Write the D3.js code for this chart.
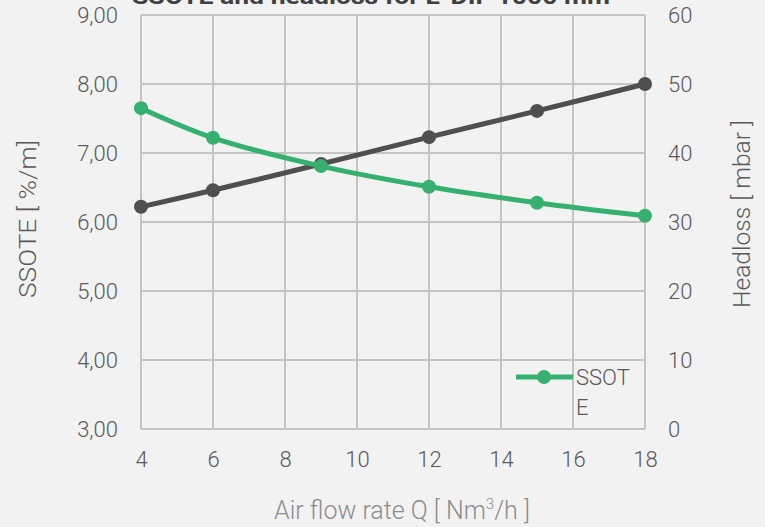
<!DOCTYPE html>
<html>
<head>
<meta charset="utf-8">
<script src="https://cdn.jsdelivr.net/npm/d3@7"></script>
<style>
  body { margin: 0; background: #f2f2f2; }
  svg { display: block; font-family: Roboto, "DejaVu Sans", sans-serif; }
</style>
</head>
<body>
<div id="chart"></div>
<script>
// Air flow rate Q [Nm3/h]
const flow = [4, 6, 9, 12, 15, 18];
// SSOTE [%/m], left axis
const ssote = [7.65, 7.22, 6.81, 6.51, 6.28, 6.09];
// Headloss [mbar], right axis
const headloss = [32.2, 34.6, 38.4, 42.3, 46.1, 50.0];

const xTicks = [4, 6, 8, 10, 12, 14, 16, 18];
const leftTicks = [3, 4, 5, 6, 7, 8, 9];
const rightTicks = [0, 10, 20, 30, 40, 50, 60];

const svgWidth = 765;
const svgHeight = 527;
const margin = { top: 15, right: 120, bottom: 98, left: 141 };
const width = 645 - margin.left;
const height = 429 - margin.top;

const green = "#35b06f";
const dark = "#4f4f4f";
const gridColor = "#c4c4c4";
const labelColor = "#595959";

const svg = d3
  .select("#chart")
  .append("svg")
  .attr("width", svgWidth)
  .attr("height", svgHeight);

svg.append("rect").attr("width", svgWidth).attr("height", svgHeight).attr("fill", "#f2f2f2");

// title, mostly cut off at the top like in the original
svg
  .append("text")
  .attr("x", 371)
  .attr("y", 4)
  .attr("text-anchor", "middle")
  .attr("textLength", 478)
  .attr("lengthAdjust", "spacingAndGlyphs")
  .style("font-size", "22px")
  .style("font-weight", "bold")
  .attr("fill", "#404040")
  .text("SSOTE and headloss for L-DIF 1000 mm");

const chart = svg
  .append("g")
  .attr("transform", `translate(${margin.left},${margin.top})`);

const xScale = d3.scaleLinear().domain([4, 18]).range([0, width]);
const yLeft = d3.scaleLinear().domain([3, 9]).range([height, 0]);
const yRight = d3.scaleLinear().domain([0, 60]).range([height, 0]);

// gridlines
chart
  .selectAll(".hgrid")
  .data(leftTicks)
  .enter()
  .append("line")
  .attr("x1", 0)
  .attr("x2", width)
  .attr("y1", (d) => yLeft(d))
  .attr("y2", (d) => yLeft(d))
  .attr("stroke", gridColor)
  .attr("stroke-width", 2);

chart
  .selectAll(".vgrid")
  .data(xTicks)
  .enter()
  .append("line")
  .attr("x1", (d) => xScale(d))
  .attr("x2", (d) => xScale(d))
  .attr("y1", 0)
  .attr("y2", height)
  .attr("stroke", gridColor)
  .attr("stroke-width", 2);

// axes (labels only)
const fmt = (d) => d.toFixed(2).replace(".", ",");

const xAxis = chart
  .append("g")
  .attr("transform", `translate(0, ${height})`)
  .call(d3.axisBottom(xScale).tickValues(xTicks).tickSize(0).tickPadding(22));

const leftAxis = chart
  .append("g")
  .call(d3.axisLeft(yLeft).tickValues(leftTicks).tickFormat(fmt).tickSize(0).tickPadding(23));

const rightAxis = chart
  .append("g")
  .attr("transform", `translate(${width}, 0)`)
  .call(d3.axisRight(yRight).tickValues(rightTicks).tickSize(0).tickPadding(23));

[xAxis, leftAxis, rightAxis].forEach((a) => {
  a.select(".domain").remove();
  a.selectAll("text")
    .attr("fill", labelColor)
    .style("font-size", "22px")
    .style("font-family", "Roboto, sans-serif")
    .style("font-weight", 300);
});

// axis titles
svg
  .append("text")
  .attr("transform", "translate(36, 219) rotate(-90)")
  .attr("text-anchor", "middle")
  .attr("textLength", 158)
  .attr("lengthAdjust", "spacingAndGlyphs")
  .attr("fill", labelColor)
  .style("font-size", "24px")
  .style("font-weight", 300)
  .text("SSOTE [ %/m]");

svg
  .append("text")
  .attr("transform", "translate(750, 214) rotate(-90)")
  .attr("text-anchor", "middle")
  .attr("textLength", 188)
  .attr("lengthAdjust", "spacingAndGlyphs")
  .attr("fill", labelColor)
  .style("font-size", "24px")
  .style("font-weight", 300)
  .text("Headloss [ mbar ]");

const xTitle = svg
  .append("text")
  .attr("x", 402)
  .attr("y", 519)
  .attr("text-anchor", "middle")
  .attr("fill", "#8c8c8c")
  .style("font-size", "25px")
  .style("font-weight", 300);
xTitle.append("tspan").text("Air flow rate Q [ Nm");
xTitle.append("tspan").attr("dy", -10).style("font-size", "15px").text("3");
xTitle.append("tspan").attr("dy", 10).text("/h ]");

// lines
const lineSsote = d3
  .line()
  .x((d, i) => xScale(flow[i]))
  .y((d) => yLeft(d))
  .curve(d3.curveCatmullRom.alpha(0.5));

const lineHead = d3
  .line()
  .x((d, i) => xScale(flow[i]))
  .y((d) => yRight(d))
  .curve(d3.curveCatmullRom.alpha(0.5));

chart
  .append("path")
  .datum(headloss)
  .attr("fill", "none")
  .attr("stroke", dark)
  .attr("stroke-width", 5)
  .attr("d", lineHead);

chart
  .selectAll(".dot-head")
  .data(headloss)
  .enter()
  .append("circle")
  .attr("cx", (d, i) => xScale(flow[i]))
  .attr("cy", (d) => yRight(d))
  .attr("r", 7)
  .attr("fill", dark);

chart
  .append("path")
  .datum(ssote)
  .attr("fill", "none")
  .attr("stroke", green)
  .attr("stroke-width", 5)
  .attr("d", lineSsote);

chart
  .selectAll(".dot-ssote")
  .data(ssote)
  .enter()
  .append("circle")
  .attr("cx", (d, i) => xScale(flow[i]))
  .attr("cy", (d) => yLeft(d))
  .attr("r", 7)
  .attr("fill", green);

// legend
const legend = svg.append("g").attr("transform", "translate(516, 377)");
legend
  .append("line")
  .attr("x1", 0)
  .attr("x2", 57)
  .attr("stroke", green)
  .attr("stroke-width", 5);
legend.append("circle").attr("cx", 28).attr("r", 7).attr("fill", green);
legend
  .append("text")
  .attr("x", 60)
  .attr("y", 8)
  .attr("fill", labelColor)
  .style("font-size", "22px")
  .style("font-weight", 300)
  .text("SSOT");
legend
  .append("text")
  .attr("x", 60)
  .attr("y", 38)
  .attr("fill", labelColor)
  .style("font-size", "22px")
  .style("font-weight", 300)
  .text("E");
</script>
</body>
</html>
